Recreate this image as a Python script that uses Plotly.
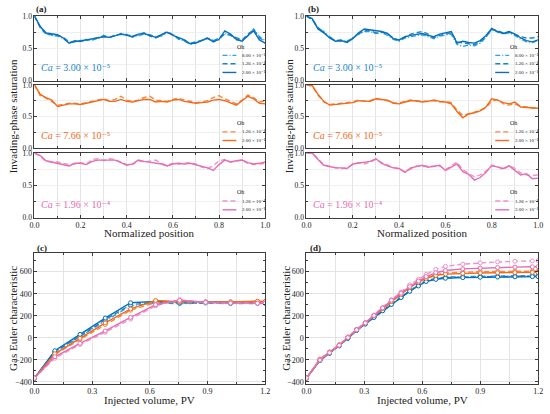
import plotly.graph_objects as go

FONT = "Liberation Serif, Times New Roman, DejaVu Serif, serif"

# ---------------- data: invading-phase saturation profiles ----------------
pos = [round(i * 0.025, 3) for i in range(41)]

# panel (a)
a_ca1_oh080 = [1.00, 0.83, 0.73, 0.70, 0.69, 0.65, 0.59, 0.62, 0.60, 0.64, 0.63, 0.65, 0.70, 0.66, 0.71, 0.71, 0.72, 0.67, 0.70, 0.72, 0.71, 0.68, 0.69, 0.74, 0.72, 0.64, 0.61, 0.56, 0.59, 0.61, 0.67, 0.62, 0.63, 0.73, 0.71, 0.63, 0.62, 0.69, 0.80, 0.68, 0.62]
a_ca1_oh126 = [1.00, 0.82, 0.72, 0.71, 0.70, 0.67, 0.60, 0.60, 0.62, 0.62, 0.64, 0.67, 0.69, 0.68, 0.69, 0.73, 0.71, 0.69, 0.71, 0.74, 0.69, 0.66, 0.70, 0.76, 0.71, 0.65, 0.62, 0.58, 0.60, 0.63, 0.65, 0.61, 0.66, 0.72, 0.70, 0.66, 0.63, 0.72, 0.79, 0.66, 0.61]
a_ca1_oh200 = [1.00, 0.84, 0.74, 0.72, 0.71, 0.66, 0.58, 0.61, 0.61, 0.63, 0.65, 0.66, 0.68, 0.67, 0.70, 0.72, 0.70, 0.68, 0.72, 0.73, 0.70, 0.67, 0.71, 0.75, 0.70, 0.66, 0.63, 0.57, 0.58, 0.62, 0.66, 0.60, 0.64, 0.77, 0.72, 0.64, 0.61, 0.70, 0.77, 0.63, 0.58]
a_ca2_oh126 = [1.00, 0.83, 0.79, 0.74, 0.68, 0.69, 0.71, 0.71, 0.70, 0.72, 0.74, 0.76, 0.78, 0.75, 0.77, 0.82, 0.76, 0.74, 0.76, 0.80, 0.82, 0.76, 0.75, 0.74, 0.77, 0.79, 0.76, 0.74, 0.72, 0.73, 0.75, 0.80, 0.83, 0.78, 0.74, 0.70, 0.76, 0.84, 0.80, 0.73, 0.75]
a_ca2_oh200 = [1.00, 0.85, 0.80, 0.76, 0.66, 0.68, 0.70, 0.70, 0.69, 0.71, 0.73, 0.75, 0.77, 0.74, 0.74, 0.77, 0.74, 0.73, 0.75, 0.77, 0.77, 0.73, 0.74, 0.73, 0.76, 0.77, 0.74, 0.73, 0.71, 0.72, 0.73, 0.76, 0.77, 0.75, 0.72, 0.68, 0.75, 0.82, 0.78, 0.71, 0.70]
a_ca3_oh126 = [1.00, 0.95, 0.87, 0.87, 0.86, 0.84, 0.82, 0.83, 0.85, 0.83, 0.90, 0.91, 0.88, 0.91, 0.90, 0.86, 0.82, 0.82, 0.88, 0.86, 0.87, 0.89, 0.84, 0.81, 0.84, 0.83, 0.84, 0.85, 0.83, 0.78, 0.76, 0.80, 0.88, 0.90, 0.86, 0.88, 0.89, 0.84, 0.82, 0.83, 0.84]
a_ca3_oh200 = [1.00, 0.96, 0.88, 0.86, 0.85, 0.83, 0.80, 0.84, 0.84, 0.82, 0.87, 0.89, 0.89, 0.90, 0.89, 0.85, 0.81, 0.83, 0.89, 0.87, 0.86, 0.85, 0.83, 0.80, 0.83, 0.84, 0.83, 0.84, 0.82, 0.79, 0.77, 0.73, 0.82, 0.89, 0.86, 0.88, 0.89, 0.85, 0.83, 0.84, 0.86]

# panel (b)
b_ca1_oh080 = [1.00, 0.94, 0.81, 0.76, 0.68, 0.62, 0.61, 0.61, 0.66, 0.72, 0.76, 0.76, 0.73, 0.74, 0.70, 0.64, 0.61, 0.66, 0.68, 0.70, 0.71, 0.68, 0.65, 0.69, 0.71, 0.72, 0.56, 0.53, 0.55, 0.54, 0.58, 0.67, 0.80, 0.75, 0.72, 0.74, 0.70, 0.64, 0.60, 0.59, 0.62]
b_ca1_oh126 = [1.00, 0.95, 0.82, 0.75, 0.67, 0.62, 0.63, 0.60, 0.66, 0.73, 0.78, 0.77, 0.74, 0.75, 0.72, 0.66, 0.62, 0.67, 0.72, 0.74, 0.76, 0.72, 0.66, 0.70, 0.72, 0.74, 0.60, 0.58, 0.57, 0.56, 0.60, 0.68, 0.79, 0.77, 0.74, 0.75, 0.71, 0.68, 0.66, 0.66, 0.68]
b_ca1_oh200 = [1.00, 0.96, 0.80, 0.74, 0.66, 0.61, 0.62, 0.59, 0.65, 0.74, 0.80, 0.79, 0.77, 0.76, 0.73, 0.65, 0.63, 0.68, 0.70, 0.72, 0.73, 0.70, 0.68, 0.72, 0.74, 0.76, 0.58, 0.61, 0.59, 0.58, 0.62, 0.70, 0.81, 0.76, 0.73, 0.76, 0.72, 0.66, 0.62, 0.60, 0.63]
b_ca2_oh126 = [1.00, 0.98, 0.84, 0.73, 0.69, 0.70, 0.71, 0.72, 0.73, 0.76, 0.74, 0.75, 0.79, 0.76, 0.75, 0.72, 0.71, 0.74, 0.76, 0.74, 0.74, 0.75, 0.75, 0.73, 0.74, 0.72, 0.60, 0.52, 0.54, 0.57, 0.60, 0.64, 0.74, 0.77, 0.70, 0.68, 0.70, 0.66, 0.65, 0.63, 0.64]
b_ca2_oh200 = [1.00, 0.99, 0.85, 0.74, 0.68, 0.69, 0.70, 0.71, 0.72, 0.75, 0.74, 0.74, 0.78, 0.77, 0.76, 0.71, 0.70, 0.73, 0.75, 0.75, 0.73, 0.74, 0.76, 0.74, 0.73, 0.70, 0.58, 0.48, 0.54, 0.56, 0.59, 0.65, 0.78, 0.76, 0.72, 0.70, 0.73, 0.65, 0.64, 0.63, 0.63]
b_ca3_oh126 = [1.00, 1.00, 0.91, 0.82, 0.79, 0.78, 0.76, 0.77, 0.82, 0.85, 0.83, 0.86, 0.90, 0.85, 0.81, 0.78, 0.75, 0.71, 0.75, 0.80, 0.79, 0.80, 0.79, 0.80, 0.74, 0.80, 0.86, 0.74, 0.69, 0.63, 0.66, 0.72, 0.80, 0.79, 0.74, 0.81, 0.76, 0.69, 0.66, 0.65, 0.66]
b_ca3_oh200 = [1.00, 1.00, 0.90, 0.81, 0.79, 0.77, 0.77, 0.76, 0.83, 0.84, 0.85, 0.87, 0.91, 0.84, 0.80, 0.77, 0.76, 0.70, 0.77, 0.79, 0.81, 0.78, 0.80, 0.81, 0.73, 0.78, 0.83, 0.71, 0.67, 0.58, 0.62, 0.70, 0.81, 0.78, 0.76, 0.80, 0.73, 0.66, 0.68, 0.60, 0.61]

# ---------------- data: gas Euler characteristic ----------------
pv_c = [0.0, 0.106, 0.237, 0.368, 0.5, 0.63, 0.755, 0.89, 1.02, 1.16, 1.2]
c_ca1_oh080 = [-365, -130, 10, 155, 290, 315, 310, 315, 310, 312, 312]
c_ca1_oh126 = [-365, -125, 15, 165, 300, 325, 315, 320, 318, 320, 320]
c_ca1_oh200 = [-365, -117, 31, 179, 318, 330, 325, 325, 325, 325, 325]
c_ca2_oh126 = [-365, -150, -15, 120, 250, 320, 325, 320, 320, 330, 325]
c_ca2_oh200 = [-365, -145, -5, 135, 262, 338, 328, 325, 325, 332, 330]
c_ca3_oh126 = [-365, -185, -60, 50, 170, 290, 345, 320, 318, 315, 315]
c_ca3_oh200 = [-365, -172, -50, 62, 185, 300, 340, 322, 315, 314, 314]

pv_d = [0.0, 0.07, 0.12, 0.17, 0.215, 0.26, 0.305, 0.35, 0.395, 0.44, 0.49, 0.535, 0.58, 0.62, 0.67, 0.72, 0.81, 0.9, 0.99, 1.08, 1.17, 1.2]
d_ca1_oh080 = [-365, -204, -138, -70, -2, 70, 128, 188, 250, 308, 370, 428, 478, 518, 540, 550, 556, 559, 561, 563, 565, 565]
d_ca1_oh126 = [-365, -205, -139, -72, -4, 68, 126, 186, 247, 305, 367, 425, 474, 514, 535, 545, 551, 554, 556, 558, 560, 560]
d_ca1_oh200 = [-365, -206, -140, -73, -5, 67, 125, 185, 245, 303, 365, 422, 470, 511, 530, 540, 546, 549, 551, 553, 555, 555]
d_ca2_oh126 = [-365, -193, -128, -63, 8, 78, 138, 204, 270, 336, 402, 462, 512, 545, 572, 588, 597, 600, 602, 604, 605, 605]
d_ca2_oh200 = [-365, -195, -130, -65, 5, 75, 135, 200, 265, 330, 395, 455, 505, 540, 565, 578, 585, 588, 590, 592, 594, 594]
d_ca3_oh126 = [-365, -200, -133, -66, 4, 74, 137, 206, 275, 345, 415, 480, 530, 575, 620, 648, 668, 680, 688, 694, 698, 700]
d_ca3_oh200 = [-365, -202, -135, -68, 2, 72, 134, 202, 270, 340, 405, 465, 515, 555, 590, 610, 625, 632, 637, 641, 644, 645]

# ---------------- style ----------------
BLUE1, BLUE2, BLUE3 = "#2aa6e0", "#1787cf", "#0a6fb8"
ORA1, ORA2 = "#f7863a", "#f26a1b"
PINK1, PINK2 = "#ef93c9", "#e56db3"
DASH_DD = "5px,2px,1px,2px"
DASH_D = "5px,3px"

oh_lbl = {"080": "8.00 × 10⁻²", "126": "1.26 × 10⁻¹", "200": "2.00 × 10⁻¹"}

XL = [30 / 550, 265 / 550]
XR = [307 / 550, 543 / 550]
YT = [[1 - 78.3 / 414, 1 - 12.3 / 414], [1 - 147.3 / 414, 1 - 82.7 / 414], [1 - 218.3 / 414, 1 - 152.3 / 414]]
YB = [1 - 388 / 414, 1 - 255 / 414]

AX = "#3c3c3c"
GRID = "#e4e4e4"


def base_axis(**kw):
    d = dict(showline=True, linecolor=AX, linewidth=1, mirror="ticks", ticks="inside",
             ticklen=3, tickcolor=AX, tickwidth=0.8, showgrid=True, gridcolor=GRID, gridwidth=0.6,
             zeroline=False, tickfont=dict(family=FONT, size=8, color="#222"))
    d.update(kw)
    return d


fig = go.Figure()
layout = {}

top_sets = {
    "a": [
        [("080", BLUE1, DASH_DD, a_ca1_oh080), ("126", BLUE2, DASH_D, a_ca1_oh126), ("200", BLUE3, "solid", a_ca1_oh200)],
        [("126", ORA1, DASH_D, a_ca2_oh126), ("200", ORA2, "solid", a_ca2_oh200)],
        [("126", PINK1, DASH_D, a_ca3_oh126), ("200", PINK2, "solid", a_ca3_oh200)],
    ],
    "b": [
        [("080", BLUE1, DASH_DD, b_ca1_oh080), ("126", BLUE2, DASH_D, b_ca1_oh126), ("200", BLUE3, "solid", b_ca1_oh200)],
        [("126", ORA1, DASH_D, b_ca2_oh126), ("200", ORA2, "solid", b_ca2_oh200)],
        [("126", PINK1, DASH_D, b_ca3_oh126), ("200", PINK2, "solid", b_ca3_oh200)],
    ],
}
ca_text = ["<i>Ca</i> = 3.00 × 10⁻⁵", "<i>Ca</i> = 7.66 × 10⁻⁵", "<i>Ca</i> = 1.96 × 10⁻⁴"]
ca_color = [BLUE2, ORA2, PINK2]

annotations = []
shapes = []

k = 0
for pi, panel in enumerate(["a", "b"]):
    xd = XL if panel == "a" else XR
    for si in range(3):
        k += 1
        xa = "x" if k == 1 else f"x{k}"
        ya = "y" if k == 1 else f"y{k}"
        for code, col, dash, vals in top_sets[panel][si]:
            fig.add_trace(go.Scatter(x=pos, y=vals, mode="lines", xaxis=xa, yaxis=ya,
                                     line=dict(color=col, width=1.4, dash=dash), showlegend=False,
                                     name=oh_lbl[code]))
        layout[f"xaxis{k}" if k > 1 else "xaxis"] = base_axis(
            domain=xd, anchor=ya, range=[0, 1], dtick=0.2, tickformat=".1f",
            showticklabels=(si == 2),
            minor=dict(dtick=0.1, ticks="inside", ticklen=2, tickcolor=AX, showgrid=True, gridcolor=GRID, gridwidth=0.6))
        layout[f"yaxis{k}" if k > 1 else "yaxis"] = base_axis(
            domain=YT[si], anchor=xa, range=[0, 1], tickvals=[0, 0.5, 1], tickformat=".1f", showgrid=False,
            tickfont=dict(family=FONT, size=7.5, color="#222"),
            minor=dict(dtick=0.25, ticks="inside", ticklen=2, tickcolor=AX, showgrid=True, gridcolor="#efefef", gridwidth=0.5))
        # Ca label
        annotations.append(dict(xref=f"{xa} domain", yref=f"{ya} domain", x=0.02, y=0.2, xanchor="left",
                                yanchor="middle", showarrow=False, text=ca_text[si],
                                font=dict(family=FONT, size=10, color=ca_color[si])))
        # legend (Oh)
        entries = top_sets[panel][si]
        ys = [0.39, 0.26, 0.126] if len(entries) == 3 else [0.256, 0.12]
        oh_y = 0.52 if len(entries) == 3 else 0.39
        annotations.append(dict(xref=f"{xa} domain", yref=f"{ya} domain", x=0.895, y=oh_y, xanchor="center",
                                yanchor="middle", showarrow=False, text="Oh",
                                font=dict(family=FONT, size=6, color="#222")))
        for (code, col, dash, _), yy in zip(entries, ys):
            shapes.append(dict(type="line", xref=f"{xa} domain", yref=f"{ya} domain", x0=0.815, x1=0.875,
                               y0=yy, y1=yy, line=dict(color=col, width=1.4, dash=dash)))
            annotations.append(dict(xref=f"{xa} domain", yref=f"{ya} domain", x=0.89, y=yy, xanchor="left",
                                    yanchor="middle", showarrow=False, text=oh_lbl[code],
                                    font=dict(family=FONT, size=5, color="#222")))

# bottom panels
bottom_sets = {
    "c": (pv_c, [(BLUE1, DASH_DD, c_ca1_oh080), (BLUE2, DASH_D, c_ca1_oh126), (BLUE3, "solid", c_ca1_oh200),
                 (ORA1, DASH_D, c_ca2_oh126), (ORA2, "solid", c_ca2_oh200),
                 (PINK1, DASH_D, c_ca3_oh126), (PINK2, "solid", c_ca3_oh200)]),
    "d": (pv_d, [(BLUE1, DASH_DD, d_ca1_oh080), (BLUE2, DASH_D, d_ca1_oh126), (BLUE3, "solid", d_ca1_oh200),
                 (ORA1, DASH_D, d_ca2_oh126), (ORA2, "solid", d_ca2_oh200),
                 (PINK1, DASH_D, d_ca3_oh126), (PINK2, "solid", d_ca3_oh200)]),
}
for panel in ["c", "d"]:
    k += 1
    xa, ya = f"x{k}", f"y{k}"
    xs, series = bottom_sets[panel]
    for col, dash, vals in series:
        fig.add_trace(go.Scatter(x=xs, y=vals, mode="lines+markers", xaxis=xa, yaxis=ya,
                                 line=dict(color=col, width=1.4, dash=dash),
                                 marker=dict(symbol="circle", size=4, color="white", line=dict(color=col, width=1)),
                                 showlegend=False, cliponaxis=True))
    xd = XL if panel == "c" else XR
    layout[f"xaxis{k}"] = base_axis(domain=xd, anchor=ya, range=[0, 1.2], dtick=0.3, tickformat=".1f",
                                    minor=dict(dtick=0.15, ticks="inside", ticklen=2, tickcolor=AX, showgrid=True,
                                               gridcolor=GRID, gridwidth=0.6))
    layout[f"yaxis{k}"] = base_axis(domain=YB, anchor=xa, range=[-415, 765], dtick=200,
                                    minor=dict(dtick=100, ticks="inside", ticklen=2, tickcolor=AX, showgrid=False))

# panel labels and axis titles
def paper_text(x, y, text, size, angle=0, xanchor="center", yanchor="middle"):
    annotations.append(dict(xref="paper", yref="paper", x=x, y=y, text=text, showarrow=False,
                            textangle=angle, xanchor=xanchor, yanchor=yanchor,
                            font=dict(family=FONT, size=size, color="#222")))

paper_text(30 / 550, 1 - 5 / 414, "<b>(a)</b>", 9, xanchor="left")
paper_text(307 / 550, 1 - 5 / 414, "<b>(b)</b>", 9, xanchor="left")
paper_text(31 / 550, 1 - 249 / 414, "<b>(c)</b>", 9, xanchor="left")
paper_text(309 / 550, 1 - 249 / 414, "<b>(d)</b>", 9, xanchor="left")

paper_text(8 / 550, 1 - 115 / 414, "Invading-phase saturation", 11, angle=-90)
paper_text(289 / 550, 1 - 115 / 414, "Invading-phase saturation", 11, angle=-90)
paper_text(147.5 / 550, 1 - 234 / 414, "Normalized position", 11)
paper_text(425 / 550, 1 - 234 / 414, "Normalized position", 11)
paper_text(8 / 550, 1 - 321 / 414, "Gas Euler characteristic", 11, angle=-90)
paper_text(286 / 550, 1 - 321 / 414, "Gas Euler characteristic", 11, angle=-90)
paper_text(147.5 / 550, 1 - 405 / 414, "Injected volume, PV", 11)
paper_text(425 / 550, 1 - 405 / 414, "Injected volume, PV", 11)

fig.update_layout(**layout)
fig.update_layout(width=550, height=414, margin=dict(l=0, r=0, t=0, b=0),
                  paper_bgcolor="white", plot_bgcolor="white",
                  font=dict(family=FONT, size=8, color="#222"),
                  annotations=annotations, shapes=shapes, showlegend=False)

fig.write_html("out.html", config={"displayModeBar": False},
               post_script="document.body.style.margin='0';document.body.style.padding='0';document.body.style.overflow='hidden';")
